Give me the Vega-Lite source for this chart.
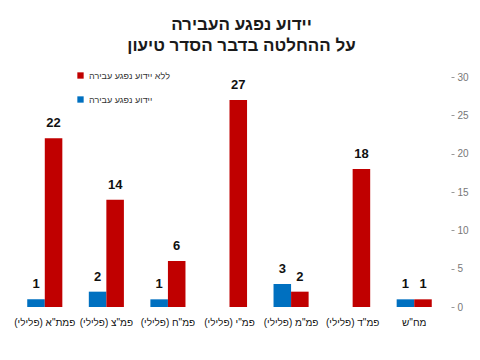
{
  "$schema": "https://vega.github.io/schema/vega-lite/v6.json",
  "width": 431,
  "height": 230,
  "autosize": "none",
  "padding": {"left": 14, "top": 77, "right": 35, "bottom": 53},
  "background": "white",
  "title": {
    "text": ["יידוע נפגע העבירה", "על ההחלטה בדבר הסדר טיעון"],
    "font": "Liberation Sans",
    "fontSize": 17,
    "fontWeight": "bold",
    "color": "#1a1a1a",
    "lineHeight": 21,
    "anchor": "middle",
    "dx": 12,
    "offset": 16
  },
  "config": {
    "view": {"stroke": null},
    "font": "Liberation Sans"
  },
  "data": {
    "values": [
      {"office": "פמת\"א (פלילי)\u200F", "series": "יידוע נפגע עבירה", "count": 1},
      {"office": "פמת\"א (פלילי)\u200F", "series": "ללא יידוע נפגע עבירה", "count": 22},
      {"office": "פמ\"צ (פלילי)\u200F", "series": "יידוע נפגע עבירה", "count": 2},
      {"office": "פמ\"צ (פלילי)\u200F", "series": "ללא יידוע נפגע עבירה", "count": 14},
      {"office": "פמ\"ח (פלילי)\u200F", "series": "יידוע נפגע עבירה", "count": 1},
      {"office": "פמ\"ח (פלילי)\u200F", "series": "ללא יידוע נפגע עבירה", "count": 6},
      {"office": "פמ\"י (פלילי)\u200F", "series": "יידוע נפגע עבירה", "count": 0},
      {"office": "פמ\"י (פלילי)\u200F", "series": "ללא יידוע נפגע עבירה", "count": 27},
      {"office": "פמ\"מ (פלילי)\u200F", "series": "יידוע נפגע עבירה", "count": 3},
      {"office": "פמ\"מ (פלילי)\u200F", "series": "ללא יידוע נפגע עבירה", "count": 2},
      {"office": "פמ\"ד (פלילי)\u200F", "series": "יידוע נפגע עבירה", "count": 0},
      {"office": "פמ\"ד (פלילי)\u200F", "series": "ללא יידוע נפגע עבירה", "count": 18},
      {"office": "מח\"ש", "series": "יידוע נפגע עבירה", "count": 1},
      {"office": "מח\"ש", "series": "ללא יידוע נפגע עבירה", "count": 1}
    ]
  },
  "encoding": {
    "x": {
      "field": "office",
      "type": "nominal",
      "sort": null,
      "scale": {"paddingInner": 0.43, "paddingOuter": 0.215},
      "axis": {
        "title": null,
        "domain": false,
        "ticks": false,
        "labelAngle": 0,
        "labelFontSize": 10,
        "labelColor": "#111111",
        "labelPadding": 10
      }
    },
    "xOffset": {
      "field": "series",
      "type": "nominal",
      "sort": ["יידוע נפגע עבירה", "ללא יידוע נפגע עבירה"],
      "scale": {"paddingInner": 0, "paddingOuter": 0}
    },
    "y": {
      "field": "count",
      "type": "quantitative",
      "scale": {"domain": [0, 30]},
      "axis": {
        "orient": "right",
        "title": null,
        "values": [0, 5, 10, 15, 20, 25, 30],
        "grid": false,
        "domain": false,
        "tickSize": 3,
        "tickColor": "#999999",
        "offset": 6,
        "labelPadding": 3,
        "labelFontSize": 10,
        "labelColor": "#777777"
      }
    }
  },
  "layer": [
    {
      "mark": {"type": "bar"},
      "encoding": {
        "color": {
          "field": "series",
          "type": "nominal",
          "scale": {
            "domain": ["ללא יידוע נפגע עבירה", "יידוע נפגע עבירה"],
            "range": ["#C00000", "#0070C0"]
          },
          "legend": {
            "title": null,
            "orient": "none",
            "legendX": 62,
            "legendY": -6,
            "symbolType": "square",
            "symbolSize": 40,
            "symbolStrokeWidth": 0,
            "labelFontSize": 9,
            "labelColor": "#333333",
            "rowPadding": 14
          }
        }
      }
    },
    {
      "transform": [{"filter": "datum.count > 0"}],
      "mark": {
        "type": "text",
        "baseline": "middle",
        "dy": -15,
        "fontSize": 13,
        "fontWeight": "bold",
        "color": "#111111"
      },
      "encoding": {
        "text": {"field": "count", "type": "quantitative"}
      }
    }
  ]
}
